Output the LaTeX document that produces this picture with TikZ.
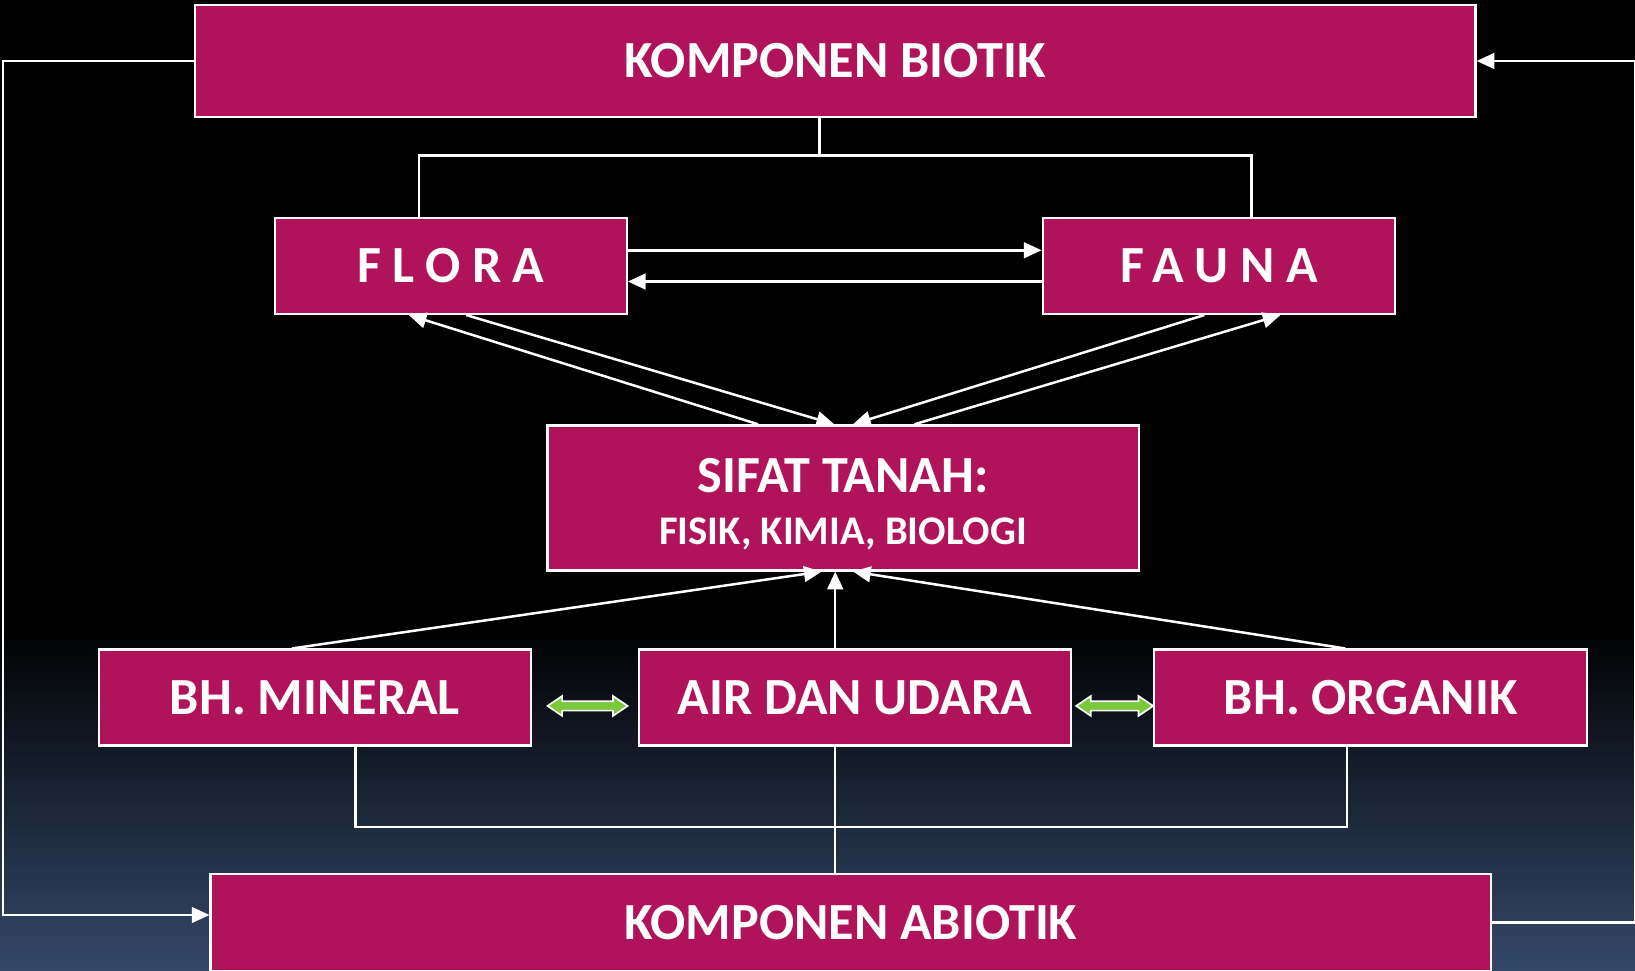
\documentclass[tikz,border=0pt]{standalone}
\usepackage{fontspec}
\setmainfont{Carlito}
\usetikzlibrary{arrows.meta,calc}
\definecolor{mag}{RGB}{177,19,91}
\definecolor{bgblue}{RGB}{52,72,106}
\definecolor{grn}{RGB}{122,200,60}
\tikzset{
  box/.style={draw=white,line width=2.2pt,fill=mag,text=white,font=\bfseries\fontsize{50}{54}\selectfont,inner sep=0pt,anchor=center},
  boxtext/.style={text=white,font=\bfseries\fontsize{50}{54}\selectfont,inner sep=0pt,anchor=center,align=center},
  conn/.style={draw=white,line width=2.4pt},
  arr/.style={conn,-{Triangle[length=17pt,width=15pt]}},
  garrow/.style={fill=grn,draw=white,line width=1.6pt,line join=miter}
}
\newcommand{\dblarrow}[2]{%
  \filldraw[garrow] let \p1=(#1), \p2=(#2) in
    (\x1,\y1) -- ++(14pt,9.5pt) -- ++(0,-5pt) -- (\x2-14pt,\y2+4.5pt) -- ++(0,5pt)
    -- (\x2,\y2) -- ++(-14pt,-9.5pt) -- ++(0,5pt) -- (\x1+14pt,\y1-4.5pt) -- ++(0,-5pt) -- cycle;}
\begin{document}
\begin{tikzpicture}[x=1pt,y=-1pt]
\useasboundingbox (0,0) rectangle (1568,931);
\fill[black] (0,0) rectangle (1568,600);
\shade[top color=black,bottom color=bgblue] (0,599) rectangle (1568,931);

\node[box,minimum width=1228pt,minimum height=107pt] (bio) at (801,58.5) {\raisebox{-2pt}{KOMPONEN BIOTIK}};
\node[box,minimum width=337pt,minimum height=92pt] (flora) at (432.5,255) {\addfontfeatures{LetterSpace=22}FLORA};
\node[box,minimum width=338pt,minimum height=92pt] (fauna) at (1169,255) {\addfontfeatures{LetterSpace=22}FAUNA};
\node[box,minimum width=567pt,minimum height=139pt] (sifat) at (808.5,477.5) {};
\node[boxtext] (sifattxt) at ([yshift=-6pt]sifat.center)
  {SIFAT TANAH:\\[-5pt]{\fontsize{39}{42}\selectfont FISIK, KIMIA, BIOLOGI}};
\node[box,minimum width=414pt,minimum height=92pt] (min) at (302,669) {\raisebox{-2pt}{BH. MINERAL}};
\node[box,minimum width=414pt,minimum height=92pt] (air) at (820,669) {\raisebox{-2pt}{AIR DAN UDARA}};
\node[box,minimum width=415pt,minimum height=92pt] (org) at (1314.5,669) {\raisebox{-2pt}{BH. ORGANIK}};
\node[box,minimum width=1228pt,minimum height=93pt] (abio) at (816,884.5) {KOMPONEN ABIOTIK};

% top tree
\draw[conn] ([xshift=-15pt]bio.south) -- ++(0,36) coordinate (j);
\draw[conn] ([xshift=-30.5pt]flora.north) |- (j) -| ([xshift=31pt]fauna.north);

% flora <-> fauna
\draw[arr] ([yshift=15pt]flora.east) -- ([yshift=15pt]fauna.west);
\draw[arr] ([yshift=-15pt]fauna.west) -- ([yshift=-15pt]flora.east);

% flora/fauna <-> sifat
\draw[arr] ([xshift=14.5pt]flora.south) -- ([xshift=-8.5pt]sifat.north);
\draw[arr] ([xshift=-81.5pt]sifat.north) -- ([xshift=-40.5pt]flora.south);
\draw[arr] ([xshift=-14pt]fauna.south) -- ([xshift=9.5pt]sifat.north);
\draw[arr] ([xshift=68.5pt]sifat.north) -- ([xshift=59pt]fauna.south);

% bottom to sifat
\draw[arr] ([xshift=-22pt]min.north) -- ([xshift=-20.5pt]sifat.south);
\draw[arr] ([xshift=-19pt]air.north) -- ([xshift=-7.5pt]sifat.south);
\draw[arr] ([xshift=-24.5pt]org.north) -- ([xshift=9.5pt]sifat.south);

% green arrows
\coordinate (g1a) at ([xshift=15pt,yshift=-8pt]min.east);
\coordinate (g1b) at ([xshift=-10pt,yshift=-8pt]air.west);
\coordinate (g2a) at ([xshift=4pt,yshift=-8pt]air.east);
\coordinate (g2b) at ([xshift=0pt,yshift=-8pt]org.west);
\dblarrow{g1a}{g1b}
\dblarrow{g2a}{g2b}

% bottom tree
\draw[conn] ([xshift=39pt]min.south) -- ++(0,77) -| ([xshift=-22.5pt]org.south);
\draw[conn] ([xshift=-19pt]air.south) -- ([xshift=-15pt]abio.north);

% loops
\draw[arr] (bio.west) -- ++(-183,0) |- ([yshift=7pt]abio.west);
\draw[arr] (abio.east) -- ++(137,0) |- (bio.east);
\end{tikzpicture}
\end{document}
